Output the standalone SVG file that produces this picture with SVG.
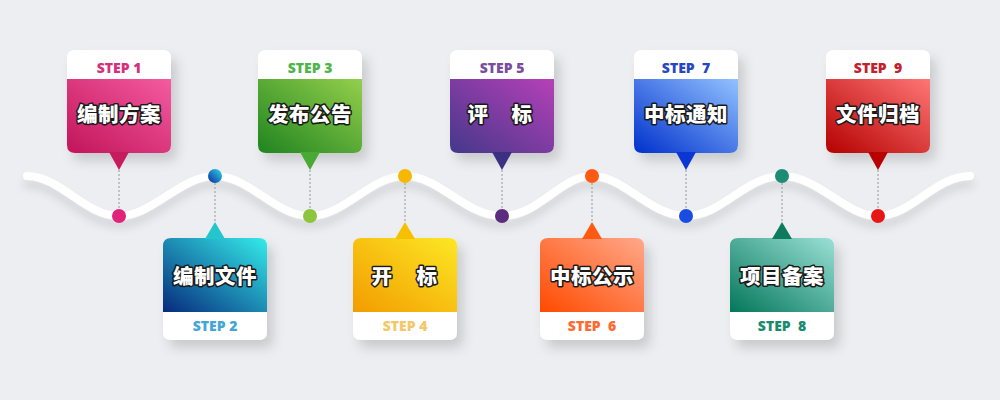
<svg xmlns="http://www.w3.org/2000/svg" xmlns:xlink="http://www.w3.org/1999/xlink" width="1000" height="400" viewBox="0 0 1000 400">
<style>
.cn{font-family:"Noto Sans CJK SC","Noto Sans",sans-serif;font-size:20.5px;font-weight:900;fill:#fff;stroke:#1a1a1a;stroke-width:3px;paint-order:stroke;stroke-linejoin:round;text-anchor:middle;letter-spacing:0.5px}
.st{font-family:"Open Sans","Liberation Sans",sans-serif;font-size:14px;font-weight:800;text-anchor:middle;white-space:pre}
.dot-line{stroke:#a9abb0;stroke-width:1.3;stroke-dasharray:2 2;fill:none}
.white{fill:#fff}
</style>
<defs>
<filter id="sh" x="-30%" y="-30%" width="170%" height="170%">
<feDropShadow dx="6" dy="8" stdDeviation="6" flood-color="#000" flood-opacity="0.15"/>
</filter>
<filter id="wsh" x="-5%" y="-50%" width="110%" height="200%">
<feDropShadow dx="0" dy="8" stdDeviation="4" flood-color="#000" flood-opacity="0.11"/>
</filter>
<path id="topBody" d="M-52,79 H52 V145 Q52,153 44,153 H-44 Q-52,153 -52,145 Z"/>
<path id="topCard" d="M-44,50 H44 Q52,50 52,58 V145 Q52,153 44,153 H-44 Q-52,153 -52,145 V58 Q-52,50 -44,50 Z"/>
<path id="topTri" d="M-10,152 L10,152 L0,170 Z"/>
<path id="botBody" d="M-44,238 H44 Q52,238 52,246 V312 H-52 V246 Q-52,238 -44,238 Z"/>
<path id="botCard" d="M-44,238 H44 Q52,238 52,246 V332 Q52,340 44,340 H-44 Q-52,340 -52,332 V246 Q-52,238 -44,238 Z"/>
<path id="botTri" d="M-10,239 L10,239 L0,222 Z"/>
<linearGradient id="g1" x1="0" y1="1" x2="1" y2="0"><stop offset="0" stop-color="#c2145a"/><stop offset="1" stop-color="#f45ba0"/></linearGradient>
<linearGradient id="g2" x1="0" y1="1" x2="1" y2="0"><stop offset="0" stop-color="#062a7c"/><stop offset="1" stop-color="#34ecea"/></linearGradient>
<linearGradient id="g3" x1="0" y1="1" x2="1" y2="0"><stop offset="0" stop-color="#1f841f"/><stop offset="1" stop-color="#94cf4c"/></linearGradient>
<linearGradient id="g4" x1="0" y1="1" x2="1" y2="0"><stop offset="0" stop-color="#f29c00"/><stop offset="1" stop-color="#fde724"/></linearGradient>
<linearGradient id="g5" x1="0" y1="1" x2="1" y2="0"><stop offset="0" stop-color="#44388a"/><stop offset="1" stop-color="#b640b8"/></linearGradient>
<linearGradient id="g6" x1="0" y1="1" x2="1" y2="0"><stop offset="0" stop-color="#ff4a00"/><stop offset="1" stop-color="#ffa88a"/></linearGradient>
<linearGradient id="g7" x1="0" y1="1" x2="1" y2="0"><stop offset="0" stop-color="#0030cc"/><stop offset="1" stop-color="#92c2ff"/></linearGradient>
<linearGradient id="g8" x1="0" y1="1" x2="1" y2="0"><stop offset="0" stop-color="#04775a"/><stop offset="1" stop-color="#9ae0d6"/></linearGradient>
<linearGradient id="g9" x1="0" y1="1" x2="1" y2="0"><stop offset="0" stop-color="#b50000"/><stop offset="1" stop-color="#ff7676"/></linearGradient>
<linearGradient id="d2" x1="0" y1="1" x2="1" y2="0"><stop offset="0" stop-color="#0a2a9a"/><stop offset="1" stop-color="#30d8e8"/></linearGradient>
</defs>
<rect width="1000" height="400" fill="#eceef1"/>
<g id="connectors">
<path filter="url(#wsh)" d="M27,176 C60,176 85,216 119,216 S180,176 215,176 S275,216 310,216 S370,176 405,176 S465,216 502,216 S560,176 592,176 S650,216 686,216 S745,176 782,176 S845,216 878,216 S935,176 970,176" fill="none" stroke="#fff" stroke-width="8" stroke-linecap="round"/>
<path class="dot-line" d="M119,170 V209 M215,183 V222 M310,170 V209 M405,183 V222 M502,170 V209 M592,183 V222 M686,170 V209 M782,183 V222 M878,170 V209"/>
</g>
<g id="step1" transform="translate(119,0)">
<use href="#topCard" class="white" filter="url(#sh)"/>
<use href="#topBody" fill="url(#g1)"/>
<use href="#topTri" fill="#c41c5e"/>
<text class="st" x="0" y="73" fill="#d4317c">STEP 1</text>
<text class="cn" x="0" y="122">编制方案</text>
<circle cx="0" cy="216" r="7" fill="#e0247a"/>
</g>
<g id="step2" transform="translate(215,0)">
<use href="#botCard" class="white" filter="url(#sh)"/>
<use href="#botBody" fill="url(#g2)"/>
<use href="#botTri" fill="#22c6cc"/>
<text class="st" x="0" y="331" fill="#45a6d4">STEP 2</text>
<text class="cn" x="0" y="284">编制文件</text>
<circle cx="0" cy="176" r="7" fill="url(#d2)"/>
</g>
<g id="step3" transform="translate(310,0)">
<use href="#topCard" class="white" filter="url(#sh)"/>
<use href="#topBody" fill="url(#g3)"/>
<use href="#topTri" fill="#4aa834"/>
<text class="st" x="0" y="73" fill="#4db54a">STEP 3</text>
<text class="cn" x="0" y="122">发布公告</text>
<circle cx="0" cy="216" r="7" fill="#8cc63e"/>
</g>
<g id="step4" transform="translate(405,0)">
<use href="#botCard" class="white" filter="url(#sh)"/>
<use href="#botBody" fill="url(#g4)"/>
<use href="#botTri" fill="#f6c000"/>
<text class="st" x="0" y="331" fill="#f2c86a">STEP 4</text>
<text class="cn" x="-23" y="284">开</text>
<text class="cn" x="22" y="284">标</text>
<circle cx="0" cy="176" r="7" fill="#f6b800"/>
</g>
<g id="step5" transform="translate(502,0)">
<use href="#topCard" class="white" filter="url(#sh)"/>
<use href="#topBody" fill="url(#g5)"/>
<use href="#topTri" fill="#3e3080"/>
<text class="st" x="0" y="73" fill="#7a4d9c">STEP 5</text>
<text class="cn" x="-24" y="122">评</text>
<text class="cn" x="20" y="122">标</text>
<circle cx="0" cy="216" r="7" fill="#5c2c7e"/>
</g>
<g id="step6" transform="translate(592,0)">
<use href="#botCard" class="white" filter="url(#sh)"/>
<use href="#botBody" fill="url(#g6)"/>
<use href="#botTri" fill="#ff5a10"/>
<text class="st" x="0" y="331" fill="#ff6a30">STEP  6</text>
<text class="cn" x="0" y="284">中标公示</text>
<circle cx="0" cy="176" r="7" fill="#ff5a12"/>
</g>
<g id="step7" transform="translate(686,0)">
<use href="#topCard" class="white" filter="url(#sh)"/>
<use href="#topBody" fill="url(#g7)"/>
<use href="#topTri" fill="#0a36d4"/>
<text class="st" x="0" y="73" fill="#2747c2">STEP  7</text>
<text class="cn" x="0" y="122">中标通知</text>
<circle cx="0" cy="216" r="7" fill="#1a4ce2"/>
</g>
<g id="step8" transform="translate(782,0)">
<use href="#botCard" class="white" filter="url(#sh)"/>
<use href="#botBody" fill="url(#g8)"/>
<use href="#botTri" fill="#0e7a5e"/>
<text class="st" x="0" y="331" fill="#1a8a6e">STEP  8</text>
<text class="cn" x="0" y="284">项目备案</text>
<circle cx="0" cy="176" r="7" fill="#1e8c74"/>
</g>
<g id="step9" transform="translate(878,0)">
<use href="#topCard" class="white" filter="url(#sh)"/>
<use href="#topBody" fill="url(#g9)"/>
<use href="#topTri" fill="#b80000"/>
<text class="st" x="0" y="73" fill="#c2202c">STEP  9</text>
<text class="cn" x="0" y="122">文件归档</text>
<circle cx="0" cy="216" r="7" fill="#e81616"/>
</g>
</svg>
